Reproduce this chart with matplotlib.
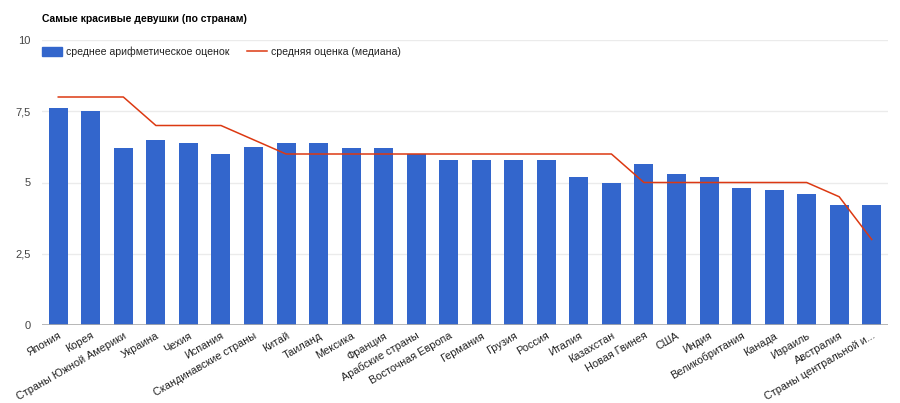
import numpy as np
from matplotlib import pyplot as plt
from matplotlib.patches import Patch
from matplotlib.lines import Line2D

plt.rcParams['font.family'] = ['Liberation Sans', 'DejaVu Sans']

countries = ["Япония", "Корея", "Страны Южной Америки", "Украина", "Чехия",
             "Испания", "Скандинавские страны", "Китай", "Таиланд", "Мексика",
             "Франция", "Арабские страны", "Восточная Европа", "Германия",
             "Грузия", "Россия", "Италия", "Казахстан", "Новая Гвинея", "США",
             "Индия", "Великобритания", "Канада", "Израиль", "Австралия",
             "Страны центральной и..."]
mean_scores = [7.6, 7.5, 6.2, 6.5, 6.4, 6.0, 6.25, 6.4, 6.4, 6.2, 6.2, 6.0,
               5.8, 5.8, 5.8, 5.8, 5.2, 5.0, 5.65, 5.3, 5.2, 4.8, 4.75, 4.6,
               4.2, 4.2]
median_scores = [8, 8, 8, 7, 7, 7, 6.5, 6, 6, 6, 6, 6, 6, 6, 6, 6, 6, 6,
                 5, 5, 5, 5, 5, 5, 4.5, 3]
y_ticks = [0, 2.5, 5, 7.5, 10]
y_tick_labels = ["0", "2,5", "5", "7,5", "10"]

BAR_COLOR = "#3366cc"
LINE_COLOR = "#dc3912"

fig = plt.figure(figsize=(9, 4.03), dpi=100)
ax = fig.add_axes([42 / 900, 1 - 325 / 403, 846 / 900, 285 / 403])

x = np.arange(len(countries))
ax.bar(x, mean_scores, width=0.585, color=BAR_COLOR, zorder=2)
ax.plot(x, median_scores, color=LINE_COLOR, linewidth=1.1, zorder=3)

ax.set_xlim(-0.5, len(countries) - 0.5)
ax.set_ylim(0, 10)
ax.set_yticks(y_ticks)
ax.set_yticklabels(y_tick_labels, color="#444444", fontsize=8)
ax.tick_params(axis="y", length=0, pad=8)
ax.set_xticks(x)
ax.set_xticklabels(countries, rotation=30, ha="right", rotation_mode="anchor",
                   fontsize=7.8, color="#222222")
ax.tick_params(axis="x", length=0, pad=4)

for v in y_ticks[1:]:
    ax.axhline(v, color="#ebebeb", linewidth=1, zorder=1)
ax.axhline(0, color="#aaaaaa", linewidth=1.2, zorder=4)
for s in ax.spines.values():
    s.set_visible(False)

fig.text(42 / 900, 1 - 19 / 403, "Самые красивые девушки (по странам)",
         fontsize=7.5, fontweight="bold", color="#000000", va="center")

handles = [Patch(color=BAR_COLOR, label="среднее арифметическое оценок"),
           Line2D([], [], color=LINE_COLOR, linewidth=1.1,
                  label="средняя оценка (медиана)")]
fig.legend(handles=handles, loc="center left",
           bbox_to_anchor=(32 / 900, 1 - 52 / 403), ncol=2, frameon=False,
           fontsize=7.6, handlelength=1.9, handleheight=0.9, handletextpad=0.45,
           columnspacing=1.6, labelcolor="#222222")

fig.savefig("out.png", dpi=100)
